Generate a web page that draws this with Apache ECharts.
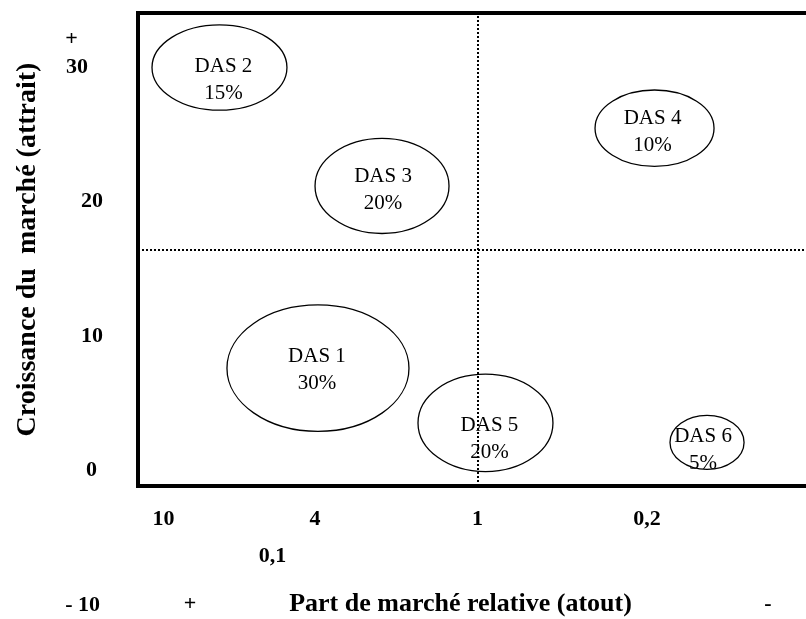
<!DOCTYPE html>
<html>
<head>
<meta charset="utf-8">
<script src="https://cdn.jsdelivr.net/npm/echarts@6/dist/echarts.min.js"></script>
<style>html,body{margin:0;padding:0;background:#fff}#c{width:806px;height:619px}</style>
</head>
<body>
<div id="c"></div>
<script>
// ---- data ----
const units = ['DAS 1', 'DAS 2', 'DAS 3', 'DAS 4', 'DAS 5', 'DAS 6'];
const shares = ['30%', '15%', '20%', '10%', '20%', '5%'];
// horizontal position on the relative-market-share scale (0..100 schematic units)
const sharePos = [25.71, 11.64, 34.86, 73.79, 49.64, 81.29];
// market growth
const growth = [7.61, 29.96, 21.16, 25.45, 3.54, 2.09];
// half extents of each bubble, in axis units
const spanX = [13.0, 9.64, 9.57, 8.5, 9.64, 5.29];
const spanY = [4.70, 3.17, 3.54, 2.84, 3.62, 2.01];
// tick labels
const xTickLabels = ['10', '4', '1', '0,2', '0,1'];
const xTickValues = [3.64, 25.29, 48.5, 72.71, 19.21];
const yTickLabels = ['30', '20', '10', '0', '- 10'];
const yTickValues = [30, 20, 10, 0, -10];
// quadrant dividers
const shareDivider = 48.5;
const growthDivider = 16.42;

// ---- layout / style ----
const FONT = '"Liberation Serif", "Times New Roman", serif';
const BOX = { left: 138, top: 13, width: 700, height: 473 };
const YLAB = { left: 105, top: 67, height: 538 };
const pxPerUnit = YLAB.height / 40;
const boxYMax = 30 + (YLAB.top - BOX.top) / pxPerUnit;
const boxYMin = boxYMax - BOX.height / pxPerUnit;
const labelShift = [[-1, 2], [4, 12], [1, 4], [-2, 4], [4, 16], [-4, 8]];
const yLabelPad = [15, 0, 0, 6, 3];   // right padding per y tick label, same order as yTickLabels

const boldText = { fontFamily: FONT, fontWeight: 'bold', fontSize: 22, color: '#000' };

const chart = echarts.init(document.getElementById('c'), null, { renderer: 'canvas' });

const yRich = {};
yLabelPad.forEach((p, i) => {
  yRich['y' + i] = Object.assign({}, boldText, { padding: [0, p, 0, 0] });
});

function nearestIndex(arr, v) {
  let best = 0;
  arr.forEach((a, i) => { if (Math.abs(a - v) < Math.abs(arr[best] - v)) best = i; });
  return best;
}

chart.setOption({
  animation: false,
  backgroundColor: '#fff',
  grid: [
    { left: BOX.left, top: BOX.top, width: BOX.width, height: BOX.height,
      show: true, borderColor: '#000', borderWidth: 4, backgroundColor: 'transparent',
      containLabel: false, outerBoundsMode: 'none' },
    { left: YLAB.left, top: YLAB.top, width: 10, height: YLAB.height, show: false,
      containLabel: false, outerBoundsMode: 'none' }
  ],
  xAxis: [
    { gridIndex: 0, type: 'value', min: 0, max: 100, position: 'bottom',
      axisLine: { show: false }, axisTick: { show: false }, splitLine: { show: false },
      axisLabel: Object.assign({}, boldText, {
        customValues: xTickValues,
        margin: 22,
        hideOverlap: false,
        formatter: function (v) {
          const i = nearestIndex(xTickValues, v);
          return i === 4 ? '{low|' + xTickLabels[i] + '}' : xTickLabels[i];
        },
        rich: { low: Object.assign({}, boldText, { padding: [37, 0, 0, 0] }) }
      }) },
    { gridIndex: 1, type: 'value', show: false }
  ],
  yAxis: [
    { gridIndex: 0, type: 'value', min: boxYMin, max: boxYMax,
      axisLine: { show: false }, axisTick: { show: false }, axisLabel: { show: false }, splitLine: { show: false },
      name: 'Croissance du  marché (attrait)', nameLocation: 'middle', nameRotate: 90, nameGap: 96,
      nameTextStyle: Object.assign({}, boldText, { fontSize: 28 }) },
    { gridIndex: 1, type: 'value', min: -10, max: 30, interval: 10,
      axisLine: { show: false }, axisTick: { show: false }, splitLine: { show: false },
      axisLabel: Object.assign({}, boldText, {
        align: 'right', margin: 2,
        formatter: function (v) {
          const i = nearestIndex(yTickValues, v);
          return '{y' + i + '|' + yTickLabels[i] + '}';
        },
        rich: yRich
      }) }
  ],
  graphic: [
    { type: 'text', x: 71.5, y: 39, style: { text: '+', align: 'center', verticalAlign: 'middle', font: 'bold 22px ' + FONT, fill: '#000' } },
    { type: 'text', x: 190, y: 604, style: { text: '+', align: 'center', verticalAlign: 'middle', font: 'bold 22px ' + FONT, fill: '#000' } },
    { type: 'text', x: 460.5, y: 604, style: { text: 'Part de marché relative (atout)', align: 'center', verticalAlign: 'middle', font: 'bold 26px ' + FONT, fill: '#000' } },
    { type: 'text', x: 768, y: 604, style: { text: '-', align: 'center', verticalAlign: 'middle', font: 'bold 22px ' + FONT, fill: '#000' } }
  ],
  series: [
    { type: 'line', xAxisIndex: 0, yAxisIndex: 0, data: [], silent: true,
      markLine: { silent: true, symbol: 'none', label: { show: false },
        lineStyle: { color: '#000', width: 2, type: [2, 2] },
        data: [{ xAxis: shareDivider }, { yAxis: growthDivider }] } },
    { type: 'custom', xAxisIndex: 0, yAxisIndex: 0, silent: true, clip: false, z: 3,
      data: units.map((u, i) => [sharePos[i], growth[i], spanX[i], spanY[i], i]),
      renderItem: function (params, api) {
        const i = api.value(4);
        const c = api.coord([api.value(0), api.value(1)]);
        const s = api.size([api.value(2), api.value(3)]);
        return { type: 'group', children: [
          { type: 'ellipse', shape: { cx: c[0], cy: c[1], rx: s[0], ry: s[1] },
            style: { fill: 'none', stroke: '#000', lineWidth: 1.3 } },
          { type: 'text', x: c[0] + labelShift[i][0], y: c[1] + labelShift[i][1],
            style: { text: units[i] + '\n' + shares[i], font: '21px ' + FONT, fill: '#000',
              align: 'center', verticalAlign: 'middle', lineHeight: 27 } }
        ] };
      } }
  ]
});
</script>
</body>
</html>
